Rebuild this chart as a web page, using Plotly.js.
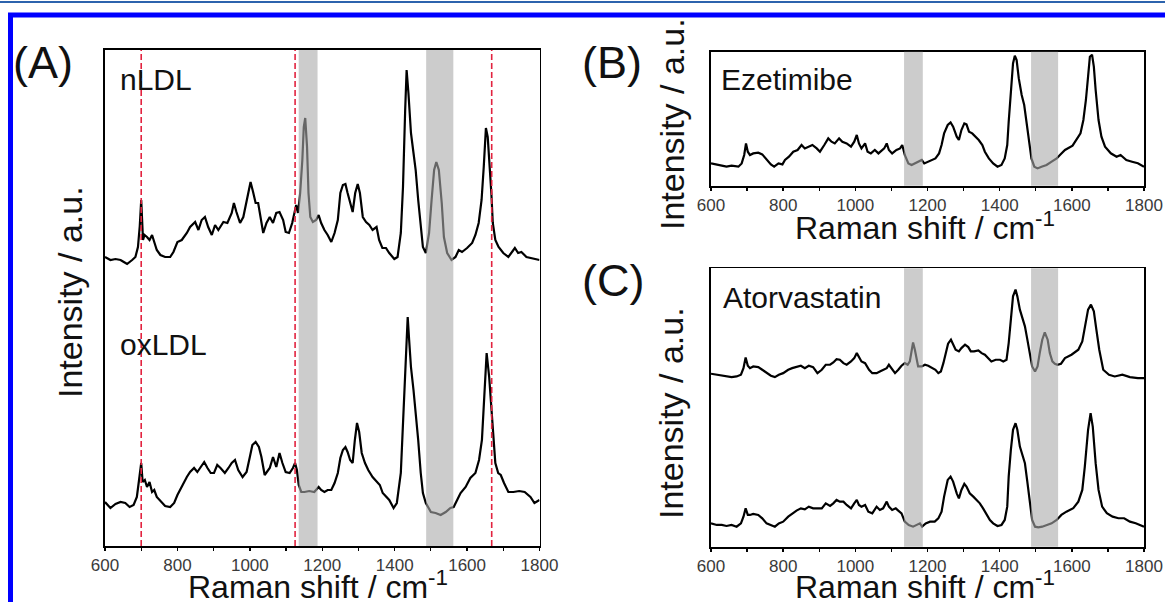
<!DOCTYPE html>
<html>
<head>
<meta charset="utf-8">
<script src="https://cdn.plot.ly/plotly-3.0.1.min.js"></script>
<style>
html,body{margin:0;padding:0;background:#ffffff;}
#chart{width:1165px;height:602px;}
</style>
</head>
<body>
<div id="chart"></div>
<script>
// ---------------- DATA (Raman shift in cm-1, intensity in arbitrary units) ----------------
const nLDL_shift = [600,615,629,643,652,661,675,684,691,696,700,705,709,716,723,730,736,743,753,766,780,789,800,812,826,835,849,858,867,876,885,895,904,913,927,938,950,956,963,973,982,991,1002,1009,1016,1023,1029,1037,1046,1055,1064,1073,1082,1092,1099,1108,1117,1124,1128,1133,1139,1145,1149,1153,1158,1162,1167,1174,1183,1190,1197,1206,1215,1225,1234,1243,1250,1257,1264,1270,1278,1284,1291,1298,1304,1312,1321,1330,1339,1350,1357,1366,1376,1385,1399,1408,1417,1423,1429,1433,1438,1445,1452,1458,1465,1472,1478,1486,1495,1502,1509,1515,1522,1530,1536,1545,1557,1568,1577,1586,1600,1614,1623,1632,1640,1646,1652,1657,1662,1667,1671,1678,1687,1700,1714,1732,1741,1750,1764,1777,1800];
const nLDL_int = [289,286,287,286,284,282,286,289,299,320,346,306,311,309,306,311,304,296,291,289,289,294,304,306,313,319,324,316,326,329,319,311,321,316,324,323,333,343,334,323,329,346,364,354,343,343,329,313,323,329,323,333,334,326,314,313,323,334,341,333,353,386,419,428,399,353,329,324,326,331,323,316,311,304,313,326,353,361,362,353,341,334,353,362,353,329,324,321,316,319,306,298,298,293,287,289,313,359,436,476,453,413,393,376,346,316,299,293,313,346,376,384,376,343,309,293,286,289,296,294,298,303,311,323,346,379,418,409,383,353,323,306,299,293,289,298,293,294,289,288,286];

const oxLDL_shift = [600,615,629,643,656,668,679,688,694,700,704,710,716,723,730,736,743,755,766,780,791,800,807,817,826,835,846,855,865,874,883,892,901,910,919,931,941,950,959,968,980,991,1000,1007,1016,1025,1032,1041,1055,1064,1073,1082,1090,1099,1110,1119,1125,1130,1135,1142,1151,1164,1178,1190,1197,1206,1215,1225,1234,1243,1250,1257,1264,1270,1277,1284,1290,1296,1302,1309,1318,1327,1339,1350,1359,1367,1376,1385,1397,1406,1417,1423,1429,1436,1440,1445,1452,1458,1465,1472,1478,1486,1500,1513,1527,1541,1554,1563,1572,1582,1596,1609,1623,1633,1641,1647,1654,1661,1670,1678,1686,1693,1702,1714,1728,1744,1759,1775,1786,1800];
const oxLDL_int = [44,38,42,44,43,39,41,49,66,83,64,66,59,64,54,56,49,44,40,39,43,51,56,63,69,74,78,74,79,84,78,73,73,81,78,73,78,83,86,76,69,74,89,101,104,99,89,71,78,89,79,93,83,74,73,78,83,76,61,54,54,55,54,59,56,54,56,56,63,73,88,96,99,94,86,83,106,123,114,93,83,76,69,64,61,53,49,46,38,43,73,119,179,229,206,179,156,136,106,73,53,43,34,33,31,34,38,39,46,53,59,68,73,86,106,146,193,169,119,83,73,71,63,54,54,55,54,49,43,46];

const ezetimibe_shift = [600,616,630,643,657,676,685,692,697,702,708,717,731,742,754,766,775,787,798,805,816,828,840,851,860,871,881,893,902,914,925,934,943,955,964,976,988,997,1004,1010,1017,1027,1034,1043,1054,1064,1073,1080,1087,1093,1102,1114,1124,1130,1137,1147,1156,1165,1174,1184,1191,1202,1213,1222,1232,1239,1246,1256,1264,1271,1281,1287,1294,1302,1308,1315,1324,1333,1342,1352,1359,1370,1382,1394,1405,1414,1421,1425,1431,1437,1442,1447,1453,1461,1468,1474,1481,1488,1496,1505,1516,1530,1544,1558,1567,1581,1602,1613,1624,1632,1639,1645,1650,1656,1661,1666,1674,1682,1692,1708,1724,1735,1751,1767,1783,1800];
const ezetimibe_int = [22.3,20.7,20,19,20,19,22.3,30.7,42.3,34,30.7,32.3,33,31.3,25.7,21.3,19,22.3,21.3,25.7,29,34,35.7,40.7,37.3,39,40.7,37.3,34,40.7,47.3,44,42.3,47.3,44,42.3,39,44,50.7,42.3,37.3,42.3,34,32.3,35.7,32.3,35.7,37.3,42.3,35.7,32.3,35.7,37.3,40.7,30.7,22.3,20.7,22.3,24,25.7,22.3,24,25.7,27.3,32.3,40.7,52.3,60.7,63.3,59,49,45.7,55.7,62.3,61.3,54,52.3,49,45.7,40.7,34,27.3,22.3,19,20.7,27.3,40.7,64,94,122.3,130,125.7,107.3,90.7,80.7,64,44,27.3,19,17.3,19,20.7,24,27.3,30.7,35.7,40,45.7,52.4,65.7,85.7,109,129,131,119,95.7,65.7,49,39,32.4,29,30.7,25.7,24,22.4,19];

const atorTop_shift = [600,616,630,643,657,671,683,690,696,702,708,717,731,742,754,766,777,788,800,814,825,837,849,860,871,883,895,907,918,930,939,948,957,967,976,988,997,1004,1010,1017,1027,1038,1047,1059,1068,1077,1087,1093,1100,1110,1119,1128,1137,1145,1151,1156,1160,1165,1170,1174,1184,1193,1202,1213,1222,1230,1237,1244,1250,1257,1265,1271,1278,1287,1294,1304,1313,1320,1329,1341,1350,1359,1368,1377,1389,1401,1410,1419,1425,1431,1437,1444,1449,1456,1462,1470,1476,1484,1490,1498,1505,1511,1518,1525,1533,1539,1546,1553,1560,1570,1581,1599,1618,1629,1636,1645,1653,1661,1668,1676,1687,1703,1719,1740,1761,1783,1800];
const atorTop_int = [172.7,171.7,170.7,170,169.3,170,171.7,178.3,189,180.7,178.3,180,179.3,176.7,173.3,170.7,169.3,171.7,173.3,176.7,178.3,179.3,180.7,178.3,180.7,179.3,173.3,176.7,181.7,181.7,184,187.3,186.7,183.3,181.7,185,188.3,193.3,190,185,183.3,176.7,173.3,173.3,175,176.7,178.3,181.7,178.3,173.3,176.7,180.7,183.3,181.7,185,195,204,196.7,185,180,180,181.7,180.7,178.3,176.7,173.3,175,183.3,193.3,202.7,206.7,201.7,196.7,195,198.3,201.7,199.3,195,195,196,193.3,191.7,188.3,185,186.7,186.7,185,186.7,203.3,226.7,250,256.7,250,236.7,228.3,220,208.3,193.3,180,175,180,193.3,206.7,214,206.7,193.3,185,182.7,181.7,182.7,188.3,191.7,196.7,205,220,236.7,241.7,235,216.7,196.7,176.7,171.7,170,171.7,169.4,168.4,168.4];

const atorBottom_shift = [600,616,630,643,657,671,683,690,696,702,708,717,731,742,754,766,777,788,800,814,825,837,849,860,871,883,895,907,918,930,939,948,957,967,976,988,997,1004,1010,1017,1027,1036,1047,1059,1068,1077,1087,1093,1102,1112,1119,1128,1137,1148,1160,1170,1179,1185,1195,1207,1220,1230,1239,1246,1256,1264,1271,1281,1287,1294,1302,1308,1317,1327,1336,1345,1354,1364,1373,1382,1394,1405,1414,1421,1425,1431,1437,1444,1449,1456,1462,1470,1476,1484,1490,1498,1507,1518,1530,1544,1558,1571,1585,1604,1618,1629,1636,1645,1652,1658,1666,1674,1684,1697,1713,1729,1745,1761,1777,1800];
const atorBottom_int = [23.3,21.7,21.7,20.7,21.7,20,23.3,30,38.3,31.7,31.7,32.7,31.7,28.3,23.3,21.7,20,23.3,25,30,33.3,36,38.3,37.3,40,38.3,38.3,38.3,43.3,40.7,43.3,46.7,45,45,41.7,38.3,43.3,46.7,41.7,40,41.7,35,33.3,40,36.7,38.3,45,40,36.7,38.3,36,33.3,25,21.7,20,21.7,23.3,20,23.3,25,25,28.3,35,50,66.7,70,65,53.3,48.3,56.7,62.7,60,53.3,50,46.7,43.3,38.3,31.7,26.7,23.3,20.7,21.7,26.7,40,70,96.7,116.7,123.3,116.7,100,91.7,83.3,66.7,43.3,26.7,20,19.3,20,21.7,23.3,26.7,31.7,35,38.4,45,56.7,80,116.7,133.4,120,83.4,56.7,40,33.4,30,28.4,28.4,25,23.4,20];

// highlighted spectral windows (grey bands) and reference lines (cm-1)
const bandStart = [1135, 1487];
const bandEnd   = [1187, 1562];
const refLines  = [700, 1125, 1668];

// axis tick labels
const tickValues = [600, 800, 1000, 1200, 1400, 1600, 1800];
const tickLabels = ['600', '800', '1000', '1200', '1400', '1600', '1800'];

const panelLabels  = ['(A)', '(B)', '(C)'];
const sampleLabels = ['nLDL', 'oxLDL', 'Ezetimibe', 'Atorvastatin'];
const xTitle = 'Raman shift / cm<sup>-1</sup>';
const yTitle = 'Intensity / a.u.';

// ---------------- LAYOUT ----------------
const W = 1165, H = 602;
const FONT = 'Liberation Sans, Arial, Helvetica, sans-serif';
const px = v => v / W;            // horizontal pixel -> paper
const py = v => (H - v) / H;      // vertical pixel (from top) -> paper

const lineStyle = {color: '#000000', width: 2.2};

const traces = [
  {x: nLDL_shift, y: nLDL_int, xaxis: 'x', yaxis: 'y', name: 'nLDL'},
  {x: oxLDL_shift, y: oxLDL_int, xaxis: 'x', yaxis: 'y', name: 'oxLDL'},
  {x: ezetimibe_shift, y: ezetimibe_int, xaxis: 'x2', yaxis: 'y2', name: 'Ezetimibe'},
  {x: atorTop_shift, y: atorTop_int, xaxis: 'x3', yaxis: 'y3', name: 'Atorvastatin'},
  {x: atorBottom_shift, y: atorBottom_int, xaxis: 'x3', yaxis: 'y3', name: 'Atorvastatin control'}
].map(t => Object.assign(t, {type: 'scatter', mode: 'lines', line: lineStyle, hoverinfo: 'skip'}));

function xAxis(domain, anchor) {
  return {
    domain: domain, anchor: anchor, range: [600, 1800],
    tickvals: tickValues, ticktext: tickLabels,
    ticks: 'outside', ticklen: 3, tickwidth: 1.5, tickcolor: '#000',
    minor: {dtick: 100, tick0: 600, ticks: 'outside', ticklen: 3, tickwidth: 1.2, tickcolor: '#000'},
    showline: true, linecolor: '#000', linewidth: 1.8, mirror: true,
    showgrid: false, zeroline: false,
    tickfont: {family: FONT, size: 17, color: '#3a3a3a'}
  };
}
function yAxis(domain, anchor, range) {
  return {
    domain: domain, anchor: anchor, range: range,
    showline: true, linecolor: '#000', linewidth: 1.8, mirror: true,
    showgrid: false, zeroline: false, showticklabels: false, ticks: ''
  };
}

const shapes = [];
// page decorations: thin rule at top and blue frame
shapes.push({type: 'line', xref: 'paper', yref: 'paper', x0: 0, x1: 1, y0: py(2), y1: py(2),
             line: {color: '#2c63ad', width: 2}});
shapes.push({type: 'rect', xref: 'paper', yref: 'paper', x0: px(10.5), x1: 1.05, y0: -0.05, y1: py(15),
             line: {color: '#0000ff', width: 5}, fillcolor: 'rgba(0,0,0,0)'});
// grey bands in all panels
['', '2', '3'].forEach(s => {
  for (let i = 0; i < bandStart.length; i++) {
    shapes.push({type: 'rect', xref: 'x' + s, yref: 'y' + s + ' domain',
                 x0: bandStart[i], x1: bandEnd[i], y0: 0, y1: 1,
                 fillcolor: 'rgb(170,170,170)', opacity: 0.6, line: {width: 0}, layer: 'above'});
  }
});
// red dashed reference lines in panel A
refLines.forEach(v => shapes.push({type: 'line', xref: 'x', yref: 'y domain', x0: v, x1: v, y0: 0, y1: 1,
  line: {color: '#e2233f', width: 1.6, dash: '6px,3px'}, layer: 'above'}));

const ann = (text, x, y, size, opts) => Object.assign({text: text, xref: 'paper', yref: 'paper', x: x, y: y,
  xanchor: 'left', yanchor: 'middle', showarrow: false, borderpad: 0,
  font: {family: FONT, size: size, color: '#111'}}, opts || {});

const annotations = [
  ann(panelLabels[0], px(12), py(62), 45),
  ann(panelLabels[1], px(581), py(62), 45),
  ann(panelLabels[2], px(581), py(280), 45),
  ann(sampleLabels[0], px(119), py(80), 30),
  ann(sampleLabels[1], px(119), py(344), 30),
  ann(sampleLabels[2], px(720), py(80), 30),
  ann(sampleLabels[3], px(722), py(297), 30),
  // axis titles
  ann(xTitle, px(318), py(585), 32, {xanchor: 'center'}),
  ann(xTitle, px(925), py(226), 32, {xanchor: 'center'}),
  ann(xTitle, px(925), py(585), 32, {xanchor: 'center'}),
  ann(yTitle, px(70), py(292), 34, {xanchor: 'center', textangle: -90}),
  ann(yTitle, px(672), py(124), 34, {xanchor: 'center', textangle: -90}),
  ann(yTitle, px(671), py(413), 34, {xanchor: 'center', textangle: -90})
];

const layout = {
  width: W, height: H,
  margin: {l: 0, r: 0, t: 0, b: 0},
  paper_bgcolor: '#ffffff', plot_bgcolor: '#ffffff',
  showlegend: false,
  font: {family: FONT, color: '#111'},
  xaxis:  xAxis([px(105), px(539.5)], 'y'),
  yaxis:  yAxis([py(546), py(50)], 'x', [0, 496]),
  xaxis2: xAxis([px(711), px(1144)], 'y2'),
  yaxis2: yAxis([py(185.7), py(51.7)], 'x2', [0, 134]),
  xaxis3: xAxis([px(711), px(1144)], 'y3'),
  yaxis3: yAxis([py(546.7), py(268.3)], 'x3', [0, 278]),
  shapes: shapes,
  annotations: annotations
};

Plotly.newPlot('chart', traces, layout, {displayModeBar: false, staticPlot: true});
</script>
</body>
</html>
